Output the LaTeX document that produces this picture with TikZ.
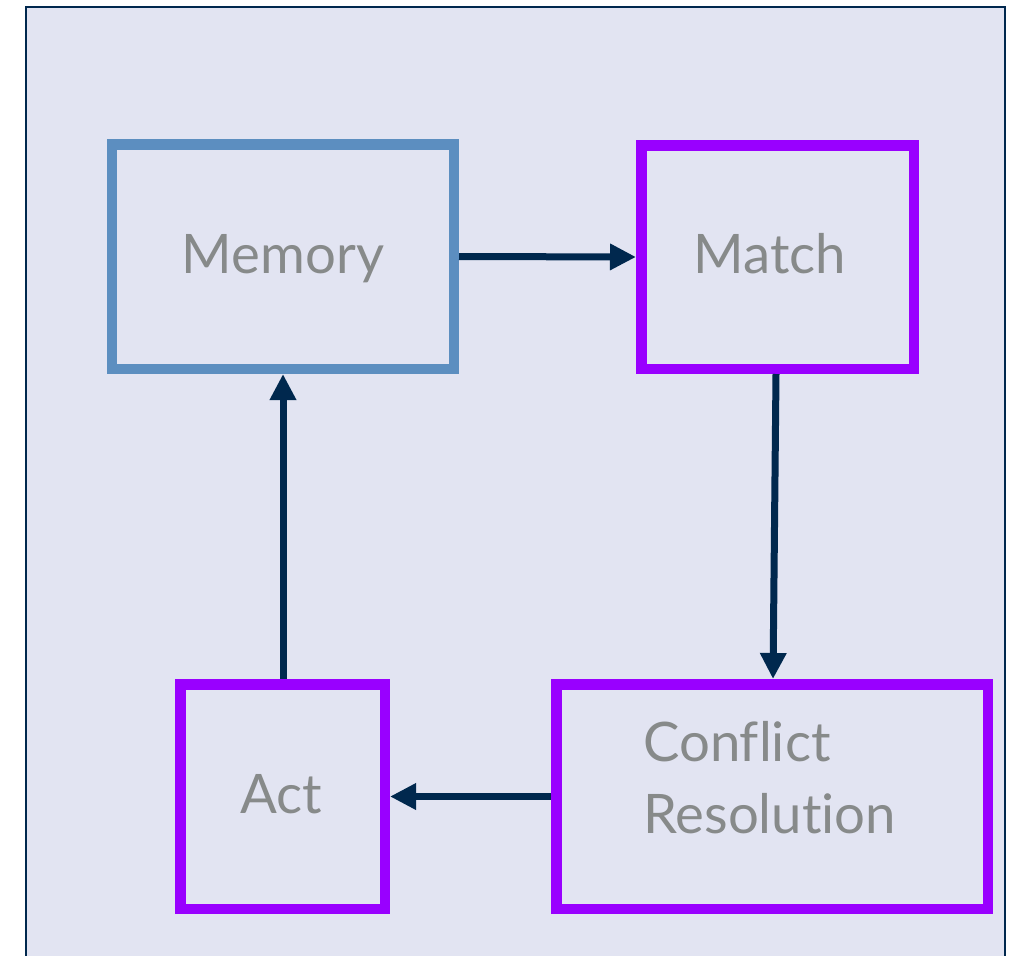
\documentclass[tikz,border=0pt]{standalone}
\usepackage{fontspec}
\setmainfont[Ligatures=NoCommon]{Lato}
\usetikzlibrary{arrows.meta}

\definecolor{panelfill}{RGB}{226,228,242}
\definecolor{navy}{RGB}{0,40,78}
\definecolor{steelblue}{RGB}{92,142,192}
\definecolor{violet}{RGB}{153,0,255}
\definecolor{labelgray}{RGB}{135,138,138}

\tikzset{
  stage/.style={draw=violet, line width=10.5bp, fill=panelfill, inner sep=0pt},
  memstage/.style={stage, draw=steelblue},
  caption/.style={inner sep=0pt, text=labelgray,
    font=\fontsize{54.5bp}{72bp}\selectfont},
  flow/.style={draw=navy, line width=7bp,
    -{Triangle[length=26bp,width=25bp]}},
}

\begin{document}
\begin{tikzpicture}[x=1bp, y=-1bp]
  \useasboundingbox (0,0) rectangle (1015,956);
  \clip (0,0) rectangle (1015,956);

  % panel behind the cycle
  \draw[navy, line width=2.5bp, fill=panelfill] (26,7) rectangle (1005,990);

  % the four stages
  \node[memstage, minimum width=341.5bp, minimum height=224.5bp]
    (mem) at (283,256.5) {};
  \node[stage, minimum width=272.5bp, minimum height=223.5bp]
    (match) at (777.5,257) {};
  \node[stage, minimum width=431.5bp, minimum height=224.5bp]
    (conf) at (772,796.5) {};
  \node[stage, minimum width=204.5bp, minimum height=224.5bp]
    (act) at (282.5,796.5) {};

  % stage names (a multi-line caption sits on the baseline of its last line)
  \node[caption, anchor=base] (memtext) at (283,273) {Memory};
  \node[caption, anchor=base] (matchtext) at (770,273) {Match};
  \node[caption, anchor=base] (acttext) at (281.5,813) {Act};
  \node[caption, anchor=base west, align=left] (conftext) at (643,833)
    {Conflict\\Resolution};

  % recognise-act cycle
  \draw[flow] (mem.east) -- (match.west);
  \draw[flow] ([xshift=-1.5bp]match.south) -- ([xshift=1bp]conf.north);
  \draw[flow] (conf.west) -- (act.east);
  \draw[flow] ([xshift=0.5bp]act.north) -- ([xshift=0.5bp]act.north |- mem.south);
\end{tikzpicture}
\end{document}
